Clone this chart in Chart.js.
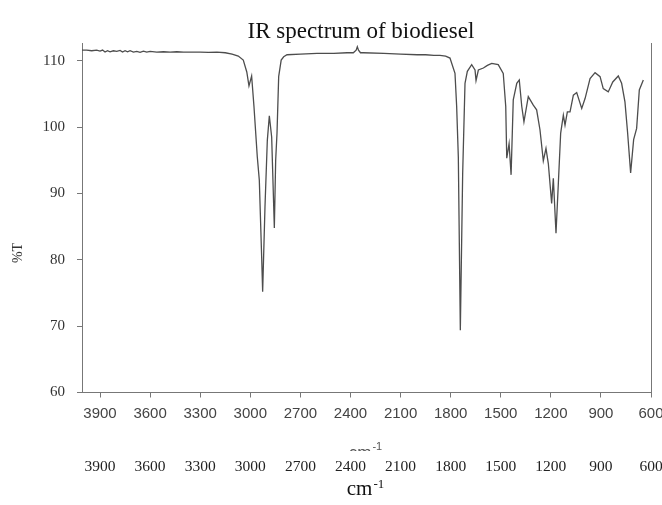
<!DOCTYPE html>
<html>
<head>
<meta charset="utf-8">
<script src="https://cdn.jsdelivr.net/npm/chart.js@4.4.1/dist/chart.umd.min.js"></script>
<style>
  html, body { margin: 0; padding: 0; background: #fff; }
</style>
</head>
<body>
<canvas id="ir" width="662" height="505"></canvas>
<script>
const chartTitle = "IR spectrum of biodiesel";
const yTitle = "%T";

// wavenumber (cm-1), high to low
const wavenumbers = [
  4008, 3980, 3950, 3920, 3900, 3885, 3870, 3855, 3840, 3820, 3800, 3780, 3765, 3750,
  3735, 3720, 3700, 3680, 3660, 3640, 3620, 3600, 3560, 3520, 3480, 3440, 3400, 3350,
  3300, 3250, 3200, 3150, 3109, 3072, 3042, 3021, 3008, 2992, 2978, 2958, 2946, 2932,
  2926, 2912, 2898, 2886, 2872, 2856, 2848, 2840, 2830, 2815, 2800, 2780, 2700, 2600,
  2500, 2420, 2383, 2366, 2359, 2352, 2340, 2323, 2200, 2100, 2000, 1950, 1900, 1864,
  1830, 1804, 1774, 1764, 1754, 1742, 1728, 1714, 1700, 1674, 1654, 1648, 1634, 1604,
  1580, 1554, 1515, 1485, 1470, 1464, 1450, 1438, 1425, 1404, 1389, 1374, 1361, 1335,
  1305, 1285, 1265, 1245, 1229, 1215, 1195, 1185, 1169, 1155, 1141, 1125, 1115, 1101,
  1085, 1065, 1045, 1015, 995, 965, 935, 905, 886, 856, 829, 796, 776, 756,
  740, 722, 704, 686, 670, 646
];

// transmittance (%T) at each wavenumber above
const transmittance = [
  111.6, 111.6, 111.5, 111.6, 111.45, 111.6, 111.3, 111.5, 111.35, 111.5, 111.4, 111.55, 111.3, 111.5,
  111.35, 111.5, 111.3, 111.4, 111.25, 111.45, 111.3, 111.4, 111.3, 111.35, 111.3, 111.35, 111.3, 111.3,
  111.3, 111.25, 111.3, 111.2, 111.0, 110.7, 110.1, 108.3, 106.2, 107.7, 103.1, 95.5, 92.0, 80.5,
  75.2, 88.0, 98.0, 101.7, 98.5, 84.8, 95.0, 99.1, 107.6, 110.1, 110.6, 110.9, 111.0, 111.1,
  111.1, 111.2, 111.2, 111.6, 112.1, 111.6, 111.2, 111.2, 111.1, 111.0, 110.9, 110.9, 110.8, 110.8,
  110.7, 110.4, 108.1, 103.1, 95.5, 69.4, 93.0, 106.6, 108.4, 109.4, 108.6, 107.0, 108.6, 108.9,
  109.3, 109.6, 109.4, 108.1, 103.1, 95.3, 97.5, 92.8, 104.1, 106.6, 107.1, 103.1, 100.8, 104.6,
  103.3, 102.6, 99.6, 94.9, 96.8, 94.5, 88.5, 92.3, 84.0, 91.5, 99.1, 101.8, 100.3, 102.3,
  102.3, 104.8, 105.2, 102.8, 104.3, 107.3, 108.2, 107.6, 105.8, 105.3, 106.8, 107.7, 106.6, 103.8,
  99.1, 93.1, 98.1, 99.8, 105.6, 107.1
];

const xTicks = [3900, 3600, 3300, 3000, 2700, 2400, 2100, 1800, 1500, 1200, 900, 600];
const yTicks = [60, 70, 80, 90, 100, 110];

const serif = "'Liberation Serif', 'Times New Roman', serif";
const sans = "'Liberation Sans', Arial, sans-serif";

// draw "cm" with a raised "-1" centred on x
function drawUnit(ctx, cx, y, font, supFont, rise) {
  ctx.font = font;
  const w1 = ctx.measureText("cm").width;
  ctx.font = supFont;
  const w2 = ctx.measureText("-1").width;
  const x0 = cx - (w1 + w2) / 2;
  ctx.textAlign = "left";
  ctx.textBaseline = "alphabetic";
  ctx.font = font;
  ctx.fillText("cm", x0, y);
  ctx.font = supFont;
  ctx.fillText("-1", x0 + w1 + 1, y - rise);
}

const extraText = {
  id: "extraText",
  afterDraw(chart) {
    const ctx = chart.ctx;
    ctx.save();
    ctx.fillStyle = "#111";
    ctx.font = "23px " + serif;
    ctx.textAlign = "center";
    ctx.textBaseline = "alphabetic";
    ctx.fillText(chartTitle, 361, 38);

    ctx.save();
    ctx.translate(18, 253);
    ctx.rotate(-Math.PI / 2);
    ctx.font = "14px " + serif;
    ctx.fillStyle = "#333";
    ctx.textAlign = "center";
    ctx.textBaseline = "middle";
    ctx.fillText(yTitle, 0, 0);
    ctx.restore();

    // half-hidden sans unit behind the second label row
    ctx.save();
    ctx.beginPath();
    ctx.rect(0, 430, 662, 21);
    ctx.clip();
    ctx.fillStyle = "#555";
    drawUnit(ctx, 365, 458, "17px " + sans, "11px " + sans, 8);
    ctx.restore();

    ctx.fillStyle = "#111";
    drawUnit(ctx, 365, 495, "21px " + serif, "13px " + serif, 7);
    ctx.restore();
  }
};

const points = wavenumbers.map((w, i) => ({ x: w, y: transmittance[i] }));
const plain = (v) => String(v);

new Chart(document.getElementById("ir").getContext("2d"), {
  type: "line",
  data: {
    datasets: [{
      data: points,
      borderColor: "#4d4d4d",
      borderWidth: 1.3,
      pointRadius: 0,
      tension: 0,
      fill: false,
    }],
  },
  options: {
    responsive: false,
    animation: false,
    layout: { padding: { top: 43, right: 11, bottom: 0, left: 0 } },
    plugins: {
      legend: { display: false },
      tooltip: { enabled: false },
    },
    scales: {
      x: {
        type: "linear",
        position: "bottom",
        weight: 0,
        reverse: true,
        min: 600,
        max: 4008,
        afterBuildTicks: (s) => { s.ticks = xTicks.map((v) => ({ value: v })); },
        afterFit: (s) => { s.height = 45; s.paddingLeft = 0; s.paddingRight = 0; },
        grid: { drawOnChartArea: false, drawTicks: true, tickLength: 5, color: "#777" },
        border: { display: true, color: "#777", width: 1 },
        ticks: {
          maxRotation: 0,
          autoSkip: false,
          padding: 7,
          color: "#444",
          font: { family: sans, size: 15 },
          callback: plain,
        },
      },
      x2: {
        type: "linear",
        position: "bottom",
        weight: 1,
        reverse: true,
        min: 600,
        max: 4008,
        afterBuildTicks: (s) => { s.ticks = xTicks.map((v) => ({ value: v })); },
        afterFit: (s) => { s.height = 67.5; s.paddingLeft = 0; s.paddingRight = 0; },
        grid: { display: false, drawTicks: false },
        border: { display: false },
        ticks: {
          maxRotation: 0,
          autoSkip: false,
          padding: 20,
          color: "#222",
          font: { family: serif, size: 15.5 },
          callback: plain,
        },
      },
      y: {
        position: "left",
        min: 60,
        max: 112.67,
        afterBuildTicks: (s) => { s.ticks = yTicks.map((v) => ({ value: v })); },
        afterFit: (s) => { s.width = 82; s.paddingTop = 0; s.paddingBottom = 0; },
        grid: { drawOnChartArea: false, drawTicks: true, tickLength: 5, color: "#777" },
        border: { display: true, color: "#777", width: 1 },
        ticks: {
          padding: 12,
          color: "#333",
          font: { family: serif, size: 15 },
          callback: plain,
        },
      },
      y2: {
        position: "right",
        min: 60,
        max: 112.67,
        afterFit: (s) => { s.width = 0; },
        grid: { display: false, drawTicks: false },
        border: { display: true, color: "#777", width: 1 },
        ticks: { display: false },
      },
    },
  },
  plugins: [extraText],
});
</script>
</body>
</html>
